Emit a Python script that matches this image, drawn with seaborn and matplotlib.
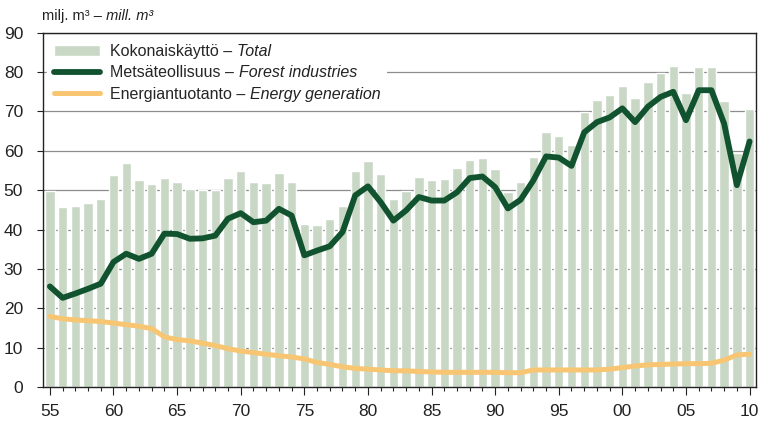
import numpy as np
import matplotlib
matplotlib.use("Agg")
import matplotlib.pyplot as plt
import seaborn as sns

years = list(range(1955, 2011))
total = [49.8, 45.7, 46.0, 46.8, 47.7, 53.8, 56.9, 52.7, 51.6, 53.2,
         52.1, 50.4, 50.1, 50.0, 53.2, 55.0, 52.2, 51.8, 54.3, 52.2,
         41.5, 41.3, 42.6, 46.1, 54.8, 57.5, 54.2, 47.7, 49.9, 53.5,
         52.7, 52.8, 55.6, 57.8, 58.2, 55.3, 49.5, 52.1, 58.4, 64.7,
         63.9, 61.4, 69.8, 73.0, 74.2, 76.4, 73.5, 77.6, 79.7, 81.5,
         74.6, 81.3, 81.3, 72.7, 59.5, 70.7]
forest = [25.6, 22.7, 23.8, 25.0, 26.3, 31.8, 33.9, 32.6, 33.9, 39.0,
          38.9, 37.7, 37.8, 38.5, 42.8, 44.2, 41.9, 42.3, 45.3, 43.6,
          33.5, 34.7, 35.8, 39.4, 48.7, 51.0, 47.0, 42.3, 44.9, 48.3,
          47.4, 47.4, 49.5, 53.1, 53.5, 50.8, 45.4, 47.6, 52.5, 58.6,
          58.3, 56.2, 64.7, 67.3, 68.5, 70.8, 67.3, 71.2, 73.7, 75.0,
          67.8, 75.4, 75.4, 66.9, 51.3, 62.4]
energy = [18.0, 17.4, 17.1, 16.9, 16.7, 16.3, 15.9, 15.5, 14.9, 12.8,
          12.1, 11.8, 11.2, 10.6, 9.8, 9.2, 8.8, 8.4, 8.0, 7.7,
          7.2, 6.3, 5.8, 5.2, 4.8, 4.6, 4.4, 4.2, 4.2, 4.0,
          3.9, 3.8, 3.8, 3.8, 3.8, 3.8, 3.7, 3.7, 4.4, 4.4,
          4.4, 4.4, 4.4, 4.4, 4.6, 5.0, 5.4, 5.7, 5.8, 5.9,
          6.0, 6.0, 6.1, 6.9, 8.2, 8.4]

labels_fi = ["Kokonaiskäyttö –", "Metsäteollisuus –", "Energiantuotanto –"]
labels_en = ["Total", "Forest industries", "Energy generation"]

sns.set_theme(style="white")
plt.rcParams['font.family'] = ['Liberation Sans Narrow', 'Liberation Sans', 'DejaVu Sans']

fig = plt.figure(figsize=(7.59, 4.23), dpi=100)
ax = fig.add_axes([0.056, 0.0844, 0.94, 0.8383])

sns.barplot(x=years, y=total, native_scale=True, width=0.74,
            color='#c9d8c5', saturation=1, errorbar=None,
            label=labels_fi[0], ax=ax, zorder=2)
sns.lineplot(x=years, y=forest, color='#11532f', lw=4.2,
             solid_capstyle='round', solid_joinstyle='round',
             label=labels_fi[1], ax=ax, zorder=3)
sns.lineplot(x=years, y=energy, color='#f8c672', lw=3.6,
             solid_capstyle='round', solid_joinstyle='round',
             label=labels_fi[2], ax=ax, zorder=3)

ax.set_xlim(1954.42, 2010.5)
ax.set_ylim(0, 90)
ax.set_yticks(range(0, 91, 10))
ax.set_xticks(years[::5])
ax.set_xticklabels([f"{y % 100:02d}" for y in years[::5]])
ax.set_xticks(years, minor=True)
ax.tick_params(axis='both', labelsize=12.5, colors='#222222')
ax.tick_params(axis='y', which='major', direction='out', length=4,
               width=0.8, left=True, pad=10)
ax.tick_params(axis='x', which='major', direction='out', length=5.5,
               width=0.8, bottom=True, pad=6.5)
ax.tick_params(axis='x', which='minor', direction='out', length=3,
               width=0.8, bottom=True)
ax.set_axisbelow(True)
ax.yaxis.grid(True, color='#8c8c8c', lw=0.9)
ax.xaxis.grid(False)
for s in ax.spines.values():
    s.set_visible(True)
    s.set_color('#222222')
    s.set_linewidth(1.0)
ax.set_xlabel('')
ax.set_ylabel('')

h, l = ax.get_legend_handles_labels()
order = [l.index(t) for t in labels_fi]
leg = ax.legend([h[i] for i in order], [l[i] for i in order],
                loc='upper left', bbox_to_anchor=(0.0034, 0.993),
                borderaxespad=0.1, borderpad=0.45, fontsize=11.5,
                handlelength=2.9, handleheight=0.75, handletextpad=0.65,
                labelspacing=0.4, frameon=True, fancybox=False,
                framealpha=1, facecolor='white', edgecolor='white')
leg.set_zorder(5)

# italic English part after each Finnish label
for txt, en in zip(leg.get_texts(), labels_en):
    ax.annotate(en + "      ", xy=(1, 0), xycoords=txt,
                xytext=(3, 0), textcoords='offset points',
                ha='left', va='bottom', fontsize=11.5, fontstyle='italic',
                color='#222222', zorder=6,
                bbox=dict(fc='white', ec='none', pad=2))

unit = fig.text(0.055, 1 - 16 / 423, "milj. m³ –", fontsize=10.5,
                va='center', ha='left', color='#222222')
ax.annotate(" mill. m³", xy=(1, 0), xycoords=unit, ha='left', va='bottom',
            fontsize=10.5, fontstyle='italic', color='#222222',
            annotation_clip=False)

plt.savefig('out.png', dpi=100)
plt.close()
